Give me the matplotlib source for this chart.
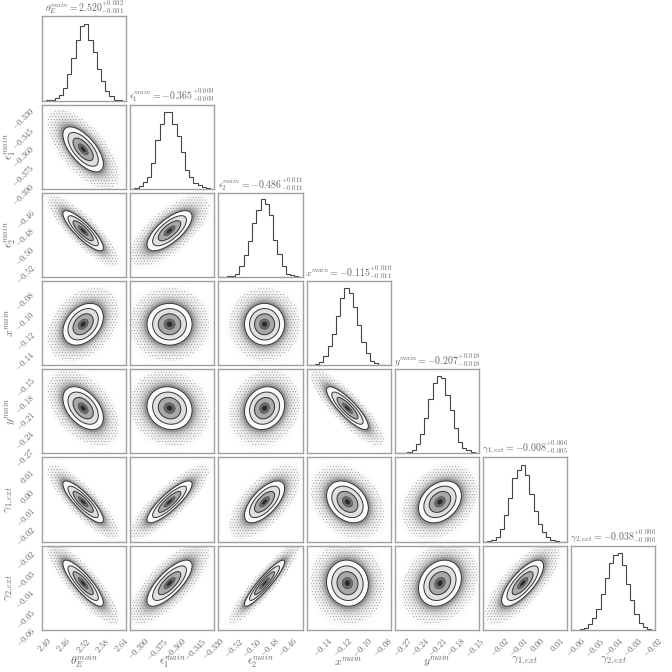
import numpy as np
import matplotlib
matplotlib.use("Agg")
import matplotlib.pyplot as plt
from matplotlib.patches import Circle
from matplotlib.transforms import Affine2D

plt.rcParams["mathtext.fontset"] = "cm"
plt.rcParams["font.family"] = "serif"
plt.rcParams["hatch.linewidth"] = 0.3

# names and quoted posterior summaries
labels = [r"\theta_E^{main}", r"\epsilon_1^{main}", r"\epsilon_2^{main}", r"x^{main}",
          r"y^{main}", r"\gamma_{1,ext}", r"\gamma_{2,ext}"]
title_med = ["2.520", "-0.365", "-0.486", "-0.115", "-0.207", "-0.008", "-0.038"]
title_up = ["0.032", "0.009", "0.011", "0.010", "0.018", "0.006", "0.006"]
title_lo = ["0.031", "0.009", "0.011", "0.011", "0.018", "0.005", "0.006"]
medians = [2.520, -0.365, -0.486, -0.115, -0.207, -0.008, -0.038]
sigmas = [0.0315, 0.009, 0.011, 0.0105, 0.018, 0.0055, 0.006]

lims = [(2.392, 2.654), (-0.3964, -0.3292), (-0.5366, -0.4443), (-0.156, -0.0715),
        (-0.2827, -0.1415), (-0.0288, 0.0154), (-0.0622, -0.0184)]
tick_values = [[2.40, 2.46, 2.52, 2.58, 2.64],
               [-0.390, -0.375, -0.360, -0.345, -0.330],
               [-0.52, -0.50, -0.48, -0.46],
               [-0.14, -0.12, -0.10, -0.08],
               [-0.27, -0.24, -0.21, -0.18, -0.15],
               [-0.02, -0.01, 0.00, 0.01],
               [-0.06, -0.05, -0.04, -0.03, -0.02]]
tick_labels = [["2.40", "2.46", "2.52", "2.58", "2.64"],
               ["-0.390", "-0.375", "-0.360", "-0.345", "-0.330"],
               ["-0.52", "-0.50", "-0.48", "-0.46"],
               ["-0.14", "-0.12", "-0.10", "-0.08"],
               ["-0.27", "-0.24", "-0.21", "-0.18", "-0.15"],
               ["-0.02", "-0.01", "0.00", "0.01"],
               ["-0.06", "-0.05", "-0.04", "-0.03", "-0.02"]]

# diagonal histograms, bar heights in percent of panel height
hist_theta = [0, 0.2, 1, 3, 6, 15, 31, 51, 72, 88, 91, 72, 58, 38, 23, 11, 5, 1, 0.4, 0]
hist_e1 = [0, 0.5, 3, 8, 14, 30, 58, 77, 91, 91, 77, 62, 43, 22, 14, 7, 4, 2, 1, 0]
hist_e2 = [0, 0, 0.5, 1, 4, 13, 26, 43, 64, 80, 92, 86, 73, 44, 27, 13, 4, 2, 0.5, 0]
hist_x = [0, 0.3, 1.5, 4, 11, 23, 37, 58, 80, 91, 86, 69, 48, 27, 14, 5, 2, 0.5, 0, 0]
hist_y = [0, 0, 0.4, 2, 4, 11.5, 23, 42, 64, 83, 91.6, 90, 69, 52, 30, 14, 6, 4, 1.5, 0.3]
hist_g1 = [0, 0.3, 2, 5, 15, 32, 52, 75, 85, 90.5, 79, 56, 36, 21, 11, 5, 2, 0.4, 0, 0]
hist_g2 = [0, 0, 0.4, 1.6, 7, 14, 25, 42, 61, 79, 89, 91, 77, 54, 35, 19, 8, 3.5, 0.8, 0]
hists = [hist_theta, hist_e1, hist_e2, hist_x, hist_y, hist_g1, hist_g2]

# tilt of each 2D panel, row by row
corr_e1 = [-0.65]
corr_e2 = [-0.85, 0.70]
corr_x = [0.35, 0.00, 0.00]
corr_y = [-0.45, -0.10, 0.15, -0.85]
corr_g1 = [-0.85, 0.85, 0.65, -0.30, 0.30]
corr_g2 = [-0.85, 0.75, 0.92, -0.05, 0.22, 0.75]
corrs = [[], corr_e1, corr_e2, corr_x, corr_y, corr_g1, corr_g2]

halo_radii = [3.9, 3.6, 3.3, 3.05, 2.85, 2.65, 2.45, 2.25]
halo_greys = [0.99, 0.975, 0.955, 0.93, 0.89, 0.83, 0.74, 0.60]
core_radii = [2.0, 1.5, 1.0, 0.5]
core_greys = [0.985, 0.88, 0.66, 0.42]

LINE = "#444444"
SPINE = "#a0a0a0"
TEXT = "#666666"

W = H = 672.0
x0, y0, size, step = 42.0, 16.3, 84.2, 88.2
fig = plt.figure(figsize=(6.72, 6.72), dpi=100, facecolor="white")
n = len(labels)


def fmt(strings):
    return ["$%s$" % s for s in strings]


for row in range(n):
    for col in range(row + 1):
        ax = fig.add_axes([(x0 + col * step) / W,
                           1 - (y0 + row * step + size) / H,
                           size / W, size / H])
        for s in ax.spines.values():
            s.set_color(SPINE)
            s.set_linewidth(1.0)
        ax.set_xlim(lims[col])
        ax.tick_params(length=0, labelsize=6.2, labelcolor=TEXT)
        if row == col:
            edges = np.linspace(lims[col][0], lims[col][1], len(hists[col]) + 1)
            ax.stairs(hists[col], edges, color=LINE, lw=0.8)
            ax.set_ylim(0, 100)
            ax.set_yticks([])
            ax.set_title("$%s = %s_{-%s}^{+%s}$" % (labels[col], title_med[col],
                                                    title_lo[col], title_up[col]),
                         fontsize=7.1, color=TEXT, pad=0.6)
        else:
            ax.set_ylim(lims[row])
            sx, sy, rho = sigmas[col], sigmas[row], corrs[row][col]
            m = np.array([[sx, 0, medians[col]],
                          [rho * sy, sy * np.sqrt(1 - rho ** 2), medians[row]],
                          [0, 0, 1]])
            tr = Affine2D(m) + ax.transData
            for r, g in zip(halo_radii, halo_greys):
                ax.add_patch(Circle((0, 0), r, transform=tr, fc=str(g), ec="none"))
            ax.add_patch(Circle((0, 0), 3.5, transform=tr, fc="none", ec="#8a8a8a",
                                lw=0, hatch="......"))
            for r, g in zip(core_radii, core_greys):
                ax.add_patch(Circle((0, 0), r, transform=tr, fc=str(g), ec="#333333",
                                    lw=0.7 if r > 0.6 else 0.3))
            ax.add_patch(Circle((0, 0), 0.25, transform=tr, fc="#2a2a2a", ec="none"))
            ax.set_xlim(lims[col])
            ax.set_ylim(lims[row])
        if row == n - 1:
            ax.set_xticks(tick_values[col])
            ax.set_xticklabels(fmt(tick_labels[col]), rotation=45, ha="center")
            ax.tick_params(axis="x", pad=4)
            ax.set_xlabel("$%s$" % labels[col], fontsize=8.5, color=TEXT, va="center")
            ax.xaxis.set_label_coords(0.5, -0.37)
        else:
            ax.set_xticks([])
        if col == 0 and row > 0:
            ax.set_yticks(tick_values[row])
            ax.set_yticklabels(fmt(tick_labels[row]), rotation=45, va="top", ha="right")
            ax.tick_params(axis="y", pad=3.5)
            ax.set_ylabel("$%s$" % labels[row], fontsize=8.5, color=TEXT, va="center")
            ax.yaxis.set_label_coords(-0.39, 0.5)
        elif row != col:
            ax.set_yticks([])

fig.savefig("out.png", dpi=100, facecolor="white")
